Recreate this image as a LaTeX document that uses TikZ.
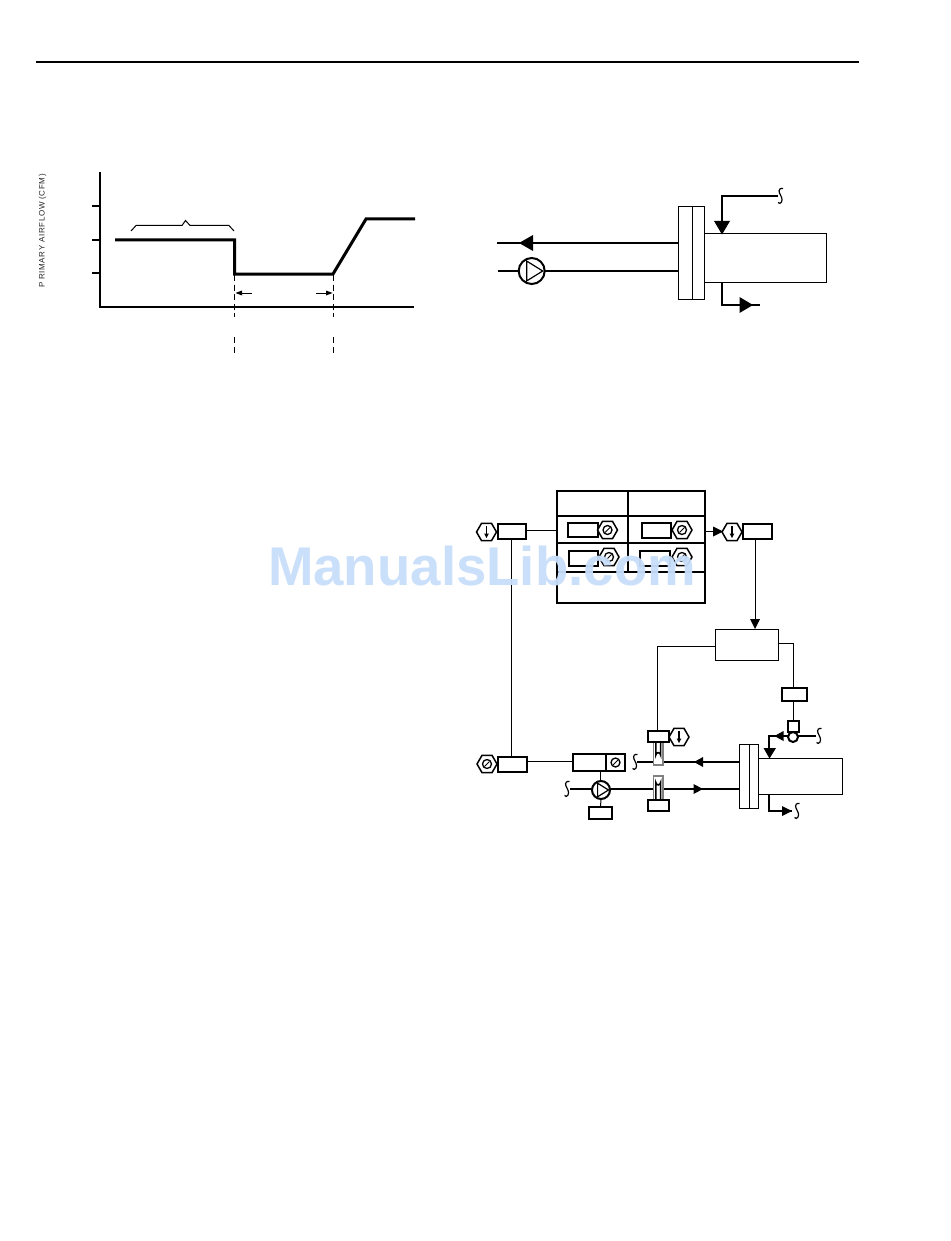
\documentclass[tikz,border=0pt]{standalone}
\usepackage{fontspec}
\setmainfont{Liberation Sans}
\newfontfamily\ylabfont[LetterSpace=8]{Liberation Sans}
\usetikzlibrary{shapes.geometric,arrows.meta}
\definecolor{wm}{RGB}{200,222,250}
\tikzset{
 thin line/.style={line width=1pt},
 thick line/.style={line width=2pt},
 curve line/.style={line width=3pt,line join=miter},
 boxn/.style={draw,line width=2pt,inner sep=0pt,outer sep=0pt,fill=white},
 boxt/.style={draw,line width=1pt,inner sep=0pt,outer sep=0pt,fill=white},
 hexn/.style={draw,line width=1.5pt,regular polygon,regular polygon sides=6,minimum size=20pt,inner sep=0pt,outer sep=0pt,fill=white},
 pumpc/.style={circle,draw,line width=2pt,inner sep=0pt,outer sep=0pt,fill=white},
}
\newcommand{\mybox}[7][boxn]{\node[#1,minimum width=#4pt-#2pt,minimum height=#5pt-#3pt] (#6) at ({(#2+#4)/2},{(#3+#5)/2}) {#7};}
\newcommand{\therm}[3]{\node[hexn] (#1) at (#2,#3) {};
 \draw[line width=1.3pt] (#2,#3-6) -- (#2,#3+3);
 \fill (#2-2.4,#3+1.5) -- (#2+2.4,#3+1.5) -- (#2,#3+6) -- cycle;}
\newcommand{\gaugeh}[3]{\node[hexn] (#1) at (#2,#3) {};
 \draw[line width=1.3pt] (#2,#3) circle (4.5);
 \draw[line width=1pt] (#2-2.5,#3+2.5) -- (#2+2.5,#3-2.5);}
\newcommand{\brk}[2]{\draw[line width=1.2pt] (#1+3,#2-7.5) .. controls (#1+0.5,#2-8.5) and (#1-2,#2-6) .. (#1-0.5,#2-3) .. controls (#1+1,#2) and (#1+3,#2+3) .. (#1+1.5,#2+6) .. controls (#1+0.8,#2+7.5) and (#1-1,#2+8) .. (#1-2,#2+6.5);}
\newcommand{\tip}[6]{\fill (#1,#2) -- (#3,#4) -- (#5,#6) -- cycle;}
\newcommand{\pumpn}[5]{\node[pumpc,minimum size=#4pt] (#1) at (#2,#3) {};
 \draw[line width=1.2pt] (#2-#5*0.45,#3-#5*0.9) -- (#2+#5,#3) -- (#2-#5*0.45,#3+#5*0.9) -- cycle;}
\begin{document}
\begin{tikzpicture}[x=1pt,y=-1pt]
\useasboundingbox (0,0) rectangle (950,1241);
\fill[white] (0,0) rectangle (950,1241);
% header rule
\coordinate (ruleL) at (36,62); \coordinate (ruleR) at (859,62);
\draw[thick line] (ruleL) -- (ruleR);
% ---------- chart
\node[rotate=90,font=\ylabfont\fontsize{8}{9}\selectfont,text=black!85] (ylab) at (42.5,231) {P RIMARY AIRFLOW (CFM)};
\coordinate (ytop) at (100,172); \coordinate (orig) at (100,307); \coordinate (xend) at (414,307);
\draw[thick line] (ytop) -- (orig) -- (xend);
\draw[thick line] (92,206) -- (100,206) (92,240) -- (100,240) (92,273) -- (100,273);
\draw[curve line] (115,240) -- (234.5,240) -- (234.5,274) -- (333,274) -- (366,219) -- (415,219);
\draw[line width=1pt] (131,231) -- (136,225.5) -- (182,225.5) -- (185.5,220.5) -- (190,225.5) -- (229,225.5) -- (234,231);
\draw[line width=.9pt,dash pattern=on 6pt off 3.5pt] (234.5,275) -- (234.5,317);
\draw[line width=.9pt,dash pattern=on 6pt off 3.5pt] (333.5,275) -- (333.5,317);
\draw[line width=.9pt,dash pattern=on 6pt off 3.5pt] (234.5,337) -- (234.5,355);
\draw[line width=.9pt,dash pattern=on 6pt off 3.5pt] (333.5,337) -- (333.5,355);
\draw[line width=1pt] (252,293) -- (240,293); \tip{235.5}{293}{242}{290.5}{242}{295.5}
\draw[line width=1pt] (316,293) -- (326,293); \tip{332.5}{293}{326}{290.5}{326}{295.5}
% ---------- upper right coil
\mybox[boxt]{678}{207}{692}{299}{cA}{}
\mybox[boxt]{692}{207}{704.5}{299}{cB}{}
\mybox[boxt]{704.5}{234}{826.5}{282.5}{tA}{}
\draw[thick line] (497,243) -- (677.5,243);
\tip{519}{243}{533}{235}{533}{251}
\draw[thick line] (498,271) -- (677.5,271);
\pumpn{pA}{531.7}{271}{26}{11}
\draw[thick line] (778,196) -- (722,196) -- (722,224);
\tip{722}{234.5}{714}{221}{730}{221}
\brk{780}{196}
\draw[thick line] (722,283) -- (722,305) -- (760,305);
\tip{753}{305}{739.5}{297}{739.5}{313}
% ---------- table
\draw[line width=2pt] (557,491) rectangle (705,603);
\draw[line width=2pt] (557,516) -- (705,516) (557,543) -- (705,543) (557,572) -- (705,572);
\draw[line width=2pt] (628,491) -- (628,572);
\mybox{568}{523}{598}{537}{r1a}{}
\mybox{642}{523}{671}{538}{r1b}{}
\mybox{569}{551}{598}{566}{r2a}{}
\mybox{640}{551}{670}{566}{r2b}{}
\gaugeh{h1a}{607.5}{530}
\gaugeh{h1b}{682}{530}
\gaugeh{h2a}{609}{557}
\gaugeh{h2b}{682}{557}
% ---------- sensors around table
\therm{tL}{486.5}{532}
\mybox{498}{524}{526}{539}{sL}{}
\draw[thin line] (sL.east |- 0,530) -- (557,530);
\mybox{743}{524}{772}{539}{sR}{}
\therm{tR}{732}{532}
\draw[thin line] (705,531) -- (714,531);
\tip{723}{531.5}{713}{526.5}{713}{536.5}
% ---------- controller
\mybox[boxt]{715.5}{629.5}{778.5}{660.5}{ctl}{}
\draw[thin line] (755,539.5) -- (755,620);
\tip{755}{629}{750}{619}{760}{619}
\draw[thin line] (ctl.west |- 0,646) -- (657,646) -- (657,731);
\draw[thin line] (ctl.east |- 0,643) -- (793.5,643) -- (793.5,688);
\mybox{782}{688}{807}{701}{act}{}
\mybox{788}{721}{799}{732}{vbox}{}
\draw[thin line] (vbox.north) -- (act.south -| vbox.north);
% ---------- lower coil
\mybox[boxt]{739}{744}{749}{808}{cC}{}
\mybox[boxt]{749}{744}{758}{808}{cD}{}
\mybox[boxt]{758}{758}{842.5}{794}{tB}{}
\draw[thick line] (637,762) -- (739,762);
\tip{694}{762}{703}{757}{703}{767}
\brk{634.5}{762}
\draw[thick line] (570,789) -- (739,789);
\tip{703}{789}{693.5}{784}{693.5}{794}
\brk{566.5}{789}
% steam valve
\draw[thick line] (816,736) -- (769,736) -- (769,750);
\node[circle,draw,line width=2pt,fill=white,inner sep=0pt,minimum size=10pt] (vc) at (793,737) {};
\tip{774.5}{736}{783.5}{731}{783.5}{741}
\tip{769.5}{758.5}{763.5}{748}{776}{748}
\brk{818.5}{736}
\draw[thick line] (769,794) -- (769,811) -- (792,811);
\tip{792}{811}{782}{806}{782}{816}
\brk{796.5}{811}
% ---------- wells
\draw[line width=1.4pt,draw=black!50,fill=white] (653.2,743) -- (653.2,765) -- (662.8,765) -- (662.8,743);
\draw[line width=1.6pt] (655.8,742) -- (655.8,755) arc[start angle=180,end angle=360,radius=2.4] -- (660.6,742);
\mybox{648}{731}{669}{742}{sA}{}
\therm{tA2}{679}{737}
\draw[line width=1.4pt,draw=black!50,fill=white] (653.2,799) -- (653.2,776) -- (662.8,776) -- (662.8,799);
\draw[line width=1.6pt] (655.8,800) -- (655.8,782.5) arc[start angle=180,end angle=0,radius=2.4] -- (660.6,800);
\mybox{648}{800}{669}{811}{sB}{}
% ---------- return path
\gaugeh{hB}{487}{764}
\mybox{498}{757}{527}{772}{sC}{}
\draw[thin line] (sL.south -| 511.5,0) -- (511.5,757);
\draw[thin line] (sC.east |- 0,761) -- (573,761);
\mybox{573}{754}{606}{771}{dA}{}
\mybox{606}{754}{625}{771}{dB}{}
\draw[line width=1.3pt] (dB) circle (4.5);
\draw[line width=1pt] (613,765) -- (618,760);
\draw[thin line] (600,771) -- (600,781);
\pumpn{pB}{601}{790}{18}{7.5}
\mybox{589}{807}{612}{819}{pbox}{}
\draw[thin line] (pB.south) -- (pbox.north);
% ---------- watermark
\node[font=\bfseries\fontsize{54.6}{60}\selectfont,text=wm,inner sep=0pt,opacity=.95] (wmk) at (482,566) {ManualsLib.com};
\end{tikzpicture}
\end{document}
